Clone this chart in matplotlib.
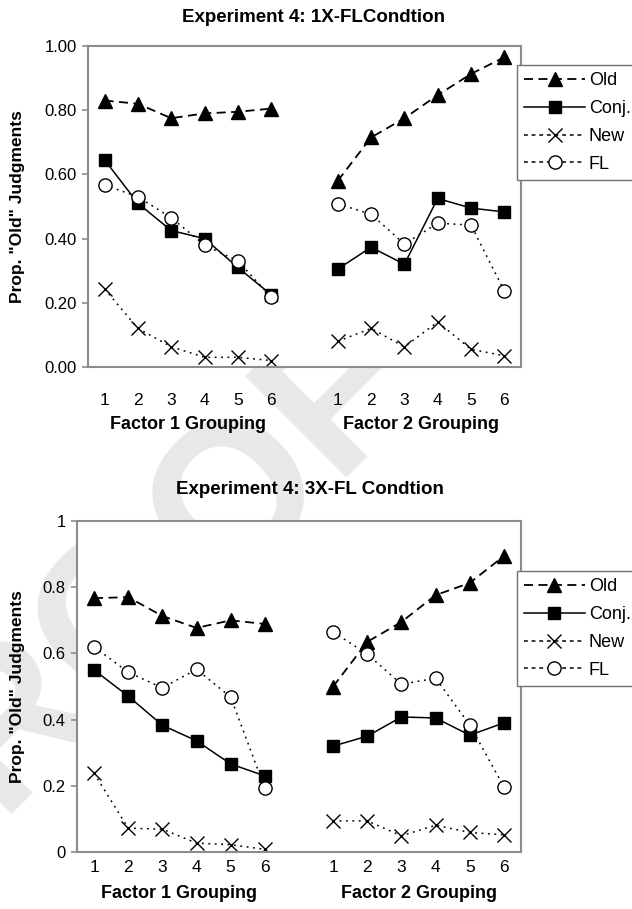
import matplotlib
matplotlib.use('Agg')
import matplotlib.pyplot as plt
from matplotlib.lines import Line2D
import numpy as np

plt.rcParams['font.family'] = ['Liberation Sans', 'DejaVu Sans']

# group positions: factor 1 on slots 0-5, factor 2 on slots 7-12
groups = [1, 2, 3, 4, 5, 6]
f1_pos = np.arange(6)
f2_pos = np.arange(7, 13)

# Experiment 4, 1X-FL condition
old_1x_f1 = [0.83, 0.82, 0.775, 0.79, 0.795, 0.805]
old_1x_f2 = [0.58, 0.715, 0.775, 0.847, 0.913, 0.965]
conj_1x_f1 = [0.645, 0.51, 0.425, 0.40, 0.31, 0.225]
conj_1x_f2 = [0.305, 0.373, 0.32, 0.525, 0.495, 0.483]
new_1x_f1 = [0.243, 0.12, 0.063, 0.03, 0.03, 0.02]
new_1x_f2 = [0.08, 0.12, 0.063, 0.14, 0.055, 0.035]
fl_1x_f1 = [0.567, 0.53, 0.465, 0.38, 0.33, 0.218]
fl_1x_f2 = [0.508, 0.476, 0.383, 0.448, 0.442, 0.237]

# Experiment 4, 3X-FL condition
old_3x_f1 = [0.767, 0.77, 0.713, 0.677, 0.70, 0.689]
old_3x_f2 = [0.50, 0.635, 0.695, 0.776, 0.813, 0.894]
conj_3x_f1 = [0.55, 0.471, 0.383, 0.336, 0.266, 0.23]
conj_3x_f2 = [0.32, 0.35, 0.408, 0.405, 0.353, 0.39]
new_3x_f1 = [0.238, 0.072, 0.069, 0.027, 0.022, 0.008]
new_3x_f2 = [0.094, 0.094, 0.049, 0.081, 0.059, 0.052]
fl_3x_f1 = [0.62, 0.543, 0.496, 0.552, 0.468, 0.193]
fl_3x_f2 = [0.665, 0.598, 0.507, 0.525, 0.384, 0.197]

series_names = ['Old', 'Conj.', 'New', 'FL']

styles = {
    'Old': dict(color='black', lw=1.3, dashes=(5, 3), marker='^', ms=9.5,
                mfc='black', mec='black'),
    'Conj.': dict(color='black', lw=1.1, ls='-', marker='s', ms=8,
                  mfc='black', mec='black'),
    'New': dict(color='black', lw=1.1, dashes=(1.2, 3), marker='x', ms=10,
                mew=1.0, mec='black'),
    'FL': dict(color='black', lw=1.1, dashes=(1.2, 3), marker='o', ms=9.5,
               mfc='white', mec='black', mew=1.0),
}
legend_styles = {
    'Old': dict(dashes=(5, 3)),
    'Conj.': dict(ls='-'),
    'New': dict(dashes=(2.5, 2.5)),
    'FL': dict(dashes=(2.5, 2.5)),
}

fig = plt.figure(figsize=(6.32, 9.09), dpi=100)

# faint watermark behind both panels
fig.text(0.196, 0.327, 'PROOF', rotation=45, fontsize=150, fontweight='bold',
         color='#e8e8e8', ha='center', va='center', zorder=-1)

ax1 = fig.add_axes([0.1392, 0.5963, 0.6851, 0.3531])
ax2 = fig.add_axes([0.1218, 0.0627, 0.7025, 0.3641])

panels = [
    (ax1, 0.941, [(old_1x_f1, old_1x_f2), (conj_1x_f1, conj_1x_f2),
                  (new_1x_f1, new_1x_f2), (fl_1x_f1, fl_1x_f2)]),
    (ax2, 0.849, [(old_3x_f1, old_3x_f2), (conj_3x_f1, conj_3x_f2),
                  (new_3x_f1, new_3x_f2), (fl_3x_f1, fl_3x_f2)]),
]

for ax, leg_top, data in panels:
    ax.set_facecolor('white')
    for name, (f1, f2) in zip(series_names, data):
        ax.plot(f1_pos, f1, **styles[name])
        ax.plot(f2_pos, f2, **styles[name])
    ax.set_xlim(-0.5, 12.5)
    ax.set_ylim(0, 1)
    ax.set_xticks(list(f1_pos) + list(f2_pos))
    ax.set_xticklabels([str(g) for g in groups] * 2)
    for sp in ax.spines.values():
        sp.set_color('#8c8c8c')
        sp.set_linewidth(1.5)
    ax.tick_params(axis='x', length=0, labelsize=12.5)
    ax.tick_params(axis='y', length=4, width=1.2, color='#8c8c8c',
                   labelsize=12, pad=4)
    ax.set_ylabel('Prop. "Old" Judgments', fontsize=12.5, fontweight='bold')

    handles = []
    for name in series_names:
        st = dict(styles[name])
        st.pop('dashes', None)
        st.pop('ls', None)
        st.update(legend_styles[name])
        handles.append(Line2D([], [], **st))
    leg = ax.legend(handles, series_names, loc='upper left',
                    bbox_to_anchor=(0.99, leg_top), fontsize=13,
                    handlelength=3.4, handletextpad=0.2, labelspacing=0.6,
                    borderpad=0.4, borderaxespad=0, fancybox=False,
                    framealpha=1)
    leg.get_frame().set_edgecolor('#707070')
    leg.get_frame().set_linewidth(1.0)

# top panel: two-decimal y ticks, tick numbers set well below the axis
ax1.set_yticks(np.arange(0, 1.01, 0.2))
ax1.set_yticklabels(['%.2f' % v for v in np.arange(0, 1.01, 0.2)])
ax1.tick_params(axis='x', pad=19)
ax1.yaxis.set_label_coords(-0.145, 0.5)
ax1.text(2.5, -0.18, 'Factor 1 Grouping', transform=ax1.get_xaxis_transform(),
         ha='center', va='center', fontsize=13, fontweight='bold')
ax1.text(9.5, -0.18, 'Factor 2 Grouping', transform=ax1.get_xaxis_transform(),
         ha='center', va='center', fontsize=13, fontweight='bold')

# bottom panel: plain y ticks
ax2.set_yticks(np.arange(0, 1.01, 0.2))
ax2.set_yticklabels(['0', '0.2', '0.4', '0.6', '0.8', '1'])
ax2.tick_params(axis='x', pad=6)
ax2.yaxis.set_label_coords(-0.117, 0.5)
ax2.text(2.5, -0.124, 'Factor 1 Grouping', transform=ax2.get_xaxis_transform(),
         ha='center', va='center', fontsize=13, fontweight='bold')
ax2.text(9.5, -0.124, 'Factor 2 Grouping', transform=ax2.get_xaxis_transform(),
         ha='center', va='center', fontsize=13, fontweight='bold')

fig.text(0.496, 0.981, 'Experiment 4: 1X-FLCondtion', ha='center', va='center',
         fontsize=13.5, fontweight='bold')
fig.text(0.49, 0.461, 'Experiment 4: 3X-FL Condtion', ha='center', va='center',
         fontsize=13.5, fontweight='bold')

fig.savefig('out.png', dpi=100)
